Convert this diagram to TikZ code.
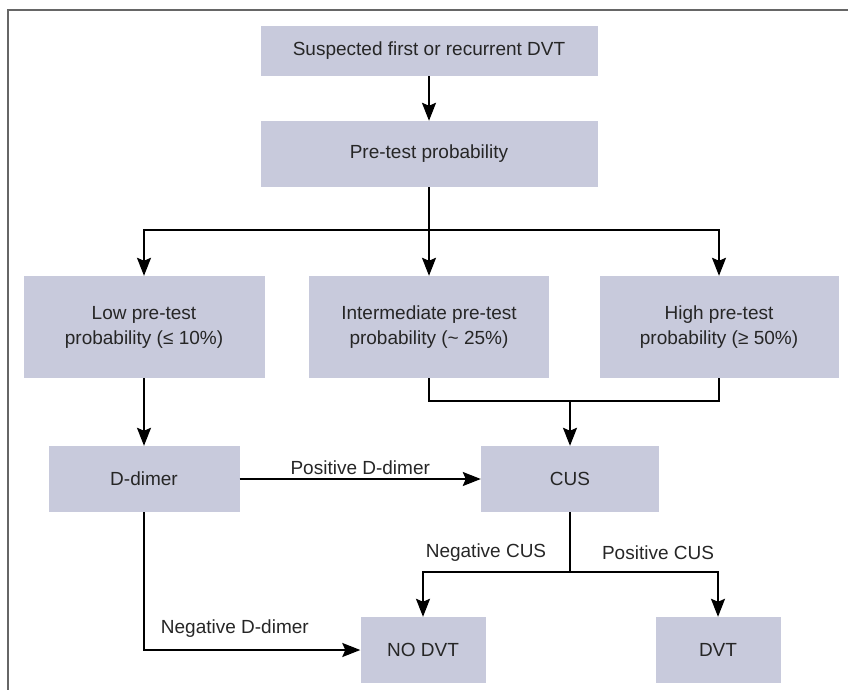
\documentclass[tikz,border=0pt]{standalone}
\usepackage{fontspec}
\setmainfont{Liberation Sans}
\usetikzlibrary{arrows.meta}
\definecolor{fondboite}{RGB}{200,202,220}

\begin{document}
\begin{tikzpicture}[x=1pt, y=-1pt]
\tikzset{boite/.style={fill=fondboite, align=center, inner sep=0pt, text=black!85, font=\fontsize{19}{25}\selectfont}}
\tikzset{etiq/.style={text=black!85, font=\fontsize{19}{25}\selectfont}}
\tikzset{trait/.style={line width=2pt}}
\tikzset{fleche/.style={trait, -{Stealth[length=18pt, width=14pt, inset=3pt]}}}
\useasboundingbox (0,0) rectangle (848,690);
\draw[line width=2pt, black!60] (8,690) -- (8,10) -- (848,10);
\node[boite, minimum width=337pt, minimum height=50pt] (S) at (429,51) {Suspected first or recurrent DVT};
\node[boite, minimum width=337pt, minimum height=66pt] (P) at (429,154) {Pre-test probability};
\node[boite, minimum width=241pt, minimum height=102pt] (L) at (144,327) {Low pre-test\\probability (≤ 10\%)};
\node[boite, minimum width=240pt, minimum height=102pt] (I) at (429,327) {Intermediate pre-test\\probability (\textasciitilde{} 25\%)};
\node[boite, minimum width=239pt, minimum height=102pt] (H) at (719,327) {High pre-test\\probability (≥ 50\%)};
\node[boite, minimum width=191pt, minimum height=66pt] (D) at (144,479) {D-dimer};
\node[boite, minimum width=178pt, minimum height=66pt] (C) at (570,479) {CUS};
\node[boite, minimum width=125pt, minimum height=66pt] (N) at (423,650) {NO DVT};
\node[boite, minimum width=125pt, minimum height=66pt] (V) at (718,650) {DVT};
\coordinate (J1) at (429,230);
\coordinate (J2) at (570,401);
\coordinate (J3) at (570,572);
\draw[fleche] (S) -- (P);
\draw[trait] (P) -- (J1);
\draw[fleche] (J1) -| (L);
\draw[fleche] (J1) -- (I);
\draw[fleche] (J1) -| (H);
\draw[trait] (I.south) |- (J2) -| (H.south);
\draw[fleche] (J2) -- (C);
\draw[fleche] (L) -- (D);
\draw[fleche] (D) -- node[etiq, above] {Positive D-dimer} (C);
\draw[fleche] (D) |- node[etiq, above=8pt, pos=0.71] {Negative D-dimer} (N);
\draw[trait] (C) -- (J3);
\draw[fleche] (J3) -| (N);
\draw[fleche] (J3) -| (V);
\node[etiq] (NC) at (486,553) {Negative CUS};
\node[etiq] (PC) at (658,553) {Positive CUS};
\end{tikzpicture}
\end{document}
